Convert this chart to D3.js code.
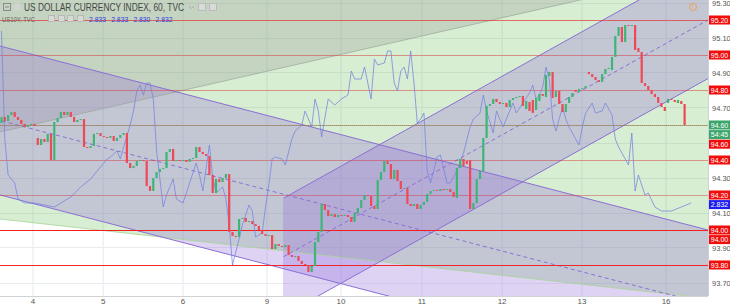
<!DOCTYPE html>
<html><head><meta charset="utf-8">
<script src="https://cdn.jsdelivr.net/npm/d3@7"></script>
<style>body{margin:0;background:#fff;}svg{display:block;font-family:"Liberation Sans",Arial,sans-serif;}</style>
</head><body><svg id="c" width="730" height="306"></svg>
<script>
// ---------- DATA ----------
const opens = [
94.611,94.646,94.623,94.657,94.674,94.646,94.629,94.606,94.589,94.600,
94.606,94.526,94.486,94.520,94.503,94.549,94.400,94.617,94.640,94.674,
94.657,94.674,94.646,94.617,94.629,94.634,94.474,94.469,94.480,94.549,
94.554,94.537,94.531,94.526,94.537,94.509,94.526,94.543,94.554,94.383,
94.354,94.366,94.394,94.400,94.394,94.251,94.223,94.297,94.331,94.349,
94.354,94.446,94.463,94.394,94.400,94.394,94.400,94.389,94.406,94.411,
94.474,94.446,94.434,94.423,94.314,94.211,94.291,94.274,94.297,94.320,
93.989,93.966,93.960,94.063,94.069,94.046,94.051,94.034,94.023,94.000,
93.977,93.966,93.971,93.891,93.920,93.909,93.903,93.914,93.857,93.846,
93.851,93.823,93.806,93.800,93.760,93.794,93.931,93.989,94.149,94.114,
94.080,94.091,94.074,94.086,94.080,94.086,94.074,94.046,94.097,94.126,
94.171,94.200,94.194,94.137,94.120,94.286,94.331,94.394,94.377,94.291,
94.343,94.280,94.234,94.240,94.149,94.137,94.149,94.120,94.143,94.160,
94.206,94.223,94.229,94.223,94.234,94.229,94.234,94.217,94.183,94.354,
94.406,94.394,94.400,94.120,94.154,94.291,94.337,94.526,94.709,94.720,
94.749,94.731,94.720,94.726,94.703,94.743,94.754,94.760,94.766,94.691,
94.731,94.743,94.686,94.737,94.777,94.760,94.880,94.903,94.760,94.794,
94.720,94.674,94.726,94.760,94.800,94.789,94.806,94.811,94.903,94.891,
94.874,94.857,94.846,94.891,94.920,94.914,94.989,95.109,95.160,95.074,
95.171,95.166,95.171,95.040,95.017,94.840,94.823,94.800,94.777,94.760,
94.726,94.703,94.726,94.749,94.743,94.726,94.737,94.720];
const closes = [
94.646,94.623,94.657,94.674,94.646,94.629,94.606,94.589,94.600,94.606,
94.594,94.486,94.520,94.503,94.549,94.400,94.617,94.640,94.674,94.657,
94.674,94.646,94.617,94.629,94.634,94.474,94.469,94.480,94.549,94.554,
94.537,94.531,94.526,94.537,94.509,94.526,94.543,94.554,94.383,94.354,
94.366,94.394,94.400,94.394,94.251,94.223,94.297,94.331,94.349,94.354,
94.446,94.463,94.394,94.400,94.394,94.400,94.389,94.406,94.411,94.474,
94.446,94.434,94.423,94.314,94.211,94.291,94.274,94.297,94.320,93.989,
93.966,93.960,94.063,94.069,94.046,94.051,94.034,94.023,94.000,93.977,
93.966,93.971,93.891,93.920,93.909,93.903,93.914,93.857,93.846,93.851,
93.823,93.806,93.800,93.760,93.794,93.931,93.989,94.149,94.114,94.080,
94.091,94.074,94.086,94.080,94.086,94.074,94.046,94.097,94.126,94.171,
94.200,94.194,94.137,94.120,94.286,94.331,94.394,94.377,94.291,94.343,
94.280,94.234,94.240,94.149,94.137,94.149,94.120,94.143,94.160,94.206,
94.223,94.229,94.223,94.234,94.229,94.234,94.217,94.189,94.354,94.406,
94.366,94.377,94.120,94.154,94.291,94.337,94.526,94.709,94.720,94.749,
94.731,94.720,94.726,94.703,94.743,94.754,94.760,94.766,94.709,94.737,
94.680,94.669,94.754,94.777,94.766,94.886,94.903,94.754,94.794,94.720,
94.674,94.720,94.760,94.783,94.789,94.806,94.811,94.823,94.891,94.874,
94.857,94.846,94.891,94.920,94.926,94.989,95.109,95.160,95.074,95.171,
95.166,95.171,95.029,95.017,94.840,94.823,94.800,94.777,94.760,94.726,
94.703,94.680,94.749,94.743,94.731,94.743,94.720,94.600];

// US10Y overlay (bar index, yield)
const yieldBars = [
0,1,2,4,5,7,10,13,16,18, 21,24,27,30,32,33,35,36,37,39,
40,41,42,43,44,45,46,47,48,49, 50,52,53,55,57,59,60,61,63,64,
65,67,68,69,70,72,73,75,76,77, 79,80,81,82,83,85,86,88,89,91,
92,94,95,96,97,99,101,103,105,106, 107,109,110,112,113,114,116,117,118,119,
120,121,122,123,124,125,126,127,128,129, 130,132,133,135,136,138,140,142,143,145,
146,147,149,150,152,153,155,156,158,160, 161,162,163,164,165,166,167,168,169,170,
171,172,173,174,175,176,177,179,180,182, 183,185,186,187,189,190,191,192,193,194,
195,196,198,200,203,206,209];
const yieldVals = [
2.875,2.848,2.839,2.837,2.833,2.832,2.832,2.8315,2.831,2.832,
2.8335,2.836,2.838,2.841,2.843,2.8435,2.845,2.843,2.846,2.8515,
2.855,2.860,2.8615,2.859,2.862,2.862,2.858,2.845,2.838,2.831,
2.834,2.838,2.833,2.832,2.837,2.842,2.839,2.835,2.8465,2.8385,
2.8345,2.836,2.833,2.8265,2.8165,2.823,2.8265,2.8315,2.830,2.8235,
2.8245,2.831,2.8365,2.843,2.8435,2.843,2.8415,2.848,2.850,2.8515,
2.855,2.851,2.858,2.855,2.8485,2.858,2.8565,2.858,2.859,2.865,
2.863,2.863,2.866,2.858,2.868,2.8665,2.867,2.870,2.870,2.862,
2.860,2.865,2.866,2.863,2.870,2.862,2.852,2.853,2.8545,2.840,
2.837,2.8435,2.844,2.837,2.837,2.840,2.8445,2.851,2.853,2.8545,
2.859,2.855,2.8495,2.855,2.851,2.853,2.857,2.8545,2.857,2.8595,
2.8615,2.858,2.859,2.861,2.866,2.863,2.853,2.850,2.853,2.856,
2.853,2.851,2.8495,2.848,2.8465,2.851,2.8545,2.857,2.8545,2.855,
2.857,2.854,2.848,2.846,2.843,2.8415,2.8495,2.835,2.839,2.8365,
2.834,2.8345,2.831,2.830,2.830,2.831,2.832];

const dayLabels = ["4","5","6","9","10","11","12","13","16"];
const dayBars = [9.55,30.8,55,80.45,102.9,127.4,151.7,175.9,201.4];
const levelPrices = [95.20,95.00,94.80,94.60,94.40,94.20,94.00,94.00,93.80];
const levelStrength = [0.6,0.4,0.4,0.35,0.38,0.35,0.95,0.95,0.95];
const axisTicks = [95.30,95.10,94.90,94.70,94.50,94.30,94.10,93.90,93.70];
const legendValues = ["2.833","2.833","2.830","2.832"];
const lastPrice = 94.60, countdown = "54:45", lastYield = 2.832;

// drawings anchored at [barIndex, price]
const descTop    = [[0,95.049],[200,94.069]];
const descBottom = [[0,94.198],[200,93.217]];
const ascUpper   = [[85.5,94.182],[207,95.460]];
const ascLower   = [[85.5,93.513],[207,94.791]];
const greenLow   = [[0,94.062],[200,93.639]];
const grayEdge   = [[0,94.562],[200,95.420]];

// ---------- DRAW ----------
const W=730,H=306,PW=708,PH=296;
const svg=d3.select("#c");
const x=d3.scaleLinear().domain([0,207]).range([1.5,1.5+207*3.3]);
const y=d3.scaleLinear().domain([93.70,95.30]).range([282.5,2.5]);
const yy=d3.scaleLinear().domain([2.80,2.88]).range([331,11]);
const iL=x.invert(-5), iR=x.invert(PW+5);
const at=(a,i)=>{const [[i0,p0],[i1,p1]]=a;return p0+(p1-p0)*(i-i0)/(i1-i0);};
const poly=(top,bot,i0,i1)=>[[x(i0),y(top(i0))],[x(i1),y(top(i1))],[x(i1),y(bot(i1))],[x(i0),y(bot(i0))]].map(p=>p.join(",")).join(" ");

svg.append("defs").append("clipPath").attr("id","clip").append("rect").attr("x",0).attr("y",0).attr("width",PW).attr("height",PH);
svg.append("rect").attr("width",W).attr("height",H).attr("fill","#fff");
const g=svg.append("g").attr("clip-path","url(#clip)");

// grid
g.selectAll(".vg").data(dayBars).enter().append("line")
 .attr("x1",d=>x(d)).attr("x2",d=>x(d)).attr("y1",0).attr("y2",PH).attr("stroke","#e4e9f0").attr("stroke-width",1);
g.selectAll(".hg").data(axisTicks.concat(levelPrices)).enter().append("line")
 .attr("x1",0).attr("x2",PW).attr("y1",d=>Math.round(y(d))+0.5).attr("y2",d=>Math.round(y(d))+0.5).attr("stroke","#e8ecf1");

// green zone & gray zone
g.append("polygon").attr("points",poly(()=>95.6,i=>at(greenLow,i),iL,iR)).attr("fill","rgb(100,190,80)").attr("fill-opacity",0.26);
g.append("polygon").attr("points",poly(()=>95.6,i=>at(grayEdge,i),iL,iR)).attr("fill","rgb(130,120,130)").attr("fill-opacity",0.21);

// channels
g.append("polygon").attr("points",poly(i=>at(descTop,i),i=>at(descBottom,i),iL,iR)).attr("fill","rgb(150,110,220)").attr("fill-opacity",0.3);
g.append("polygon").attr("points",poly(i=>at(ascUpper,i),i=>at(ascLower,i),85.5,iR)).attr("fill","rgb(150,110,220)").attr("fill-opacity",0.3);

const seg=(fn,i0,i1,col,dash,op)=>g.append("line").attr("x1",x(i0)).attr("y1",y(fn(i0))).attr("x2",x(i1)).attr("y2",y(fn(i1)))
  .attr("stroke",col).attr("stroke-width",1).attr("stroke-opacity",op||1).attr("stroke-dasharray",dash||null);
seg(i=>at(greenLow,i),iL,iR,"#a6d496",null,0.8);
seg(i=>at(grayEdge,i),iL,iR,"#9aa59a",null,0.7);
const pc="#8b6fd3";
seg(i=>at(descTop,i),iL,iR,pc);
seg(i=>at(descBottom,i),iL,iR,pc);
seg(i=>(at(descTop,i)+at(descBottom,i))/2,iL,iR,pc,"4,3");
seg(i=>at(ascUpper,i),85.5,iR,pc);
seg(i=>at(ascLower,i),85.5,iR,pc);
seg(i=>(at(ascUpper,i)+at(ascLower,i))/2,85.5,iR,pc,"4,3");
g.append("line").attr("x1",x(85.5)).attr("x2",x(85.5)).attr("y1",y(at(ascUpper,85.5))).attr("y2",y(at(ascLower,85.5))).attr("stroke",pc).attr("stroke-opacity",0.2);

// horizontal levels
levelPrices.forEach((p,k)=>{
  g.append("line").attr("x1",0).attr("x2",PW).attr("y1",Math.round(y(p))+0.5).attr("y2",Math.round(y(p))+0.5)
   .attr("stroke","#f21e1e").attr("stroke-width",1).attr("stroke-opacity",levelStrength[k]);
});

// current price dotted line
g.append("line").attr("x1",0).attr("x2",PW).attr("y1",Math.round(y(lastPrice))+0.5).attr("y2",Math.round(y(lastPrice))+0.5)
 .attr("stroke","#6aa05a").attr("stroke-dasharray","1,1").attr("stroke-width",1).attr("stroke-opacity",0.8);

// yield line
g.append("path").datum(yieldBars.map((b,k)=>[b,yieldVals[k]]))
 .attr("d",d3.line().x(d=>x(d[0])).y(d=>yy(d[1])))
 .attr("fill","none").attr("stroke","#7482e0").attr("stroke-width",1).attr("stroke-opacity",0.75);

// candles
const up="#3cb676", dn="#ef4856";
g.selectAll(".cd").data(closes).enter().append("rect")
 .attr("x",(d,i)=>x(i)-1.1).attr("width",2.2)
 .attr("y",(d,i)=>Math.min(y(opens[i]),y(d)))
 .attr("height",(d,i)=>Math.max(1,Math.abs(y(opens[i])-y(d))))
 .attr("fill",(d,i)=>d>=opens[i]?up:dn);

// frame
svg.append("line").attr("x1",0).attr("x2",PW).attr("y1",PH+0.5).attr("y2",PH+0.5).attr("stroke","#cfd3d8");
svg.append("line").attr("x1",PW+0.5).attr("x2",PW+0.5).attr("y1",0).attr("y2",PH).attr("stroke","#cfd3d8");

// x axis labels
svg.selectAll(".xl").data(dayLabels).enter().append("text")
 .attr("x",(d,k)=>x(dayBars[k])).attr("y",304).attr("text-anchor","middle")
 .attr("font-size",8).attr("fill","#555").text(d=>d);

// right-side labels with stacking
const labels=[];
levelPrices.forEach(p=>labels.push({t:p.toFixed(2),yv:y(p),c:"#f20d0d",r:1}));
labels.push({t:lastPrice.toFixed(2),yv:y(lastPrice),c:"#3aa66b",r:0});
labels.push({t:countdown,yv:y(lastPrice),c:"#3aa66b",r:0.5});
labels.push({t:lastYield.toFixed(3),yv:yy(lastYield),c:"#1d1df0",r:1});
labels.sort((a,b)=>{const d=a.yv-b.yv; return Math.abs(d)<1?(a.r-b.r):d;});
let prev=-100;
labels.forEach(l=>{let v=Math.max(l.yv,prev+9.6);l.ys=v;prev=v;});

// y axis tick labels (those hidden behind a coloured label are not shown, as in TradingView)
const visibleTicks=axisTicks.filter(t=>labels.every(l=>Math.abs(l.ys-y(t))>7));
svg.selectAll(".yl").data(visibleTicks).enter().append("text")
 .attr("x",712).attr("y",d=>y(d)+3).attr("font-size",7.5).attr("fill","#555").text(d=>d.toFixed(2));

const lg=svg.append("g");
labels.forEach(l=>{
  lg.append("rect").attr("x",709).attr("y",l.ys-4.5).attr("width",21).attr("height",9).attr("fill",l.c);
  lg.append("text").attr("x",719.5).attr("y",l.ys+2.5).attr("text-anchor","middle").attr("font-size",7).attr("fill","#fff").text(l.t);
});

// legend
const lgd=svg.append("g");
lgd.append("rect").attr("x",3.5).attr("y",3.5).attr("width",7).attr("height",7).attr("fill","none").attr("stroke","#8a8a8a");
lgd.append("line").attr("x1",5).attr("x2",9).attr("y1",7).attr("y2",7).attr("stroke","#8a8a8a");
lgd.append("rect").attr("x",14).attr("y",3.5).attr("width",6).attr("height",7).attr("fill","#cfd6d2");
lgd.append("text").attr("x",24).attr("y",11).attr("font-size",10).attr("fill","#444")
 .attr("textLength",160).attr("lengthAdjust","spacingAndGlyphs").text("US DOLLAR CURRENCY INDEX, 60, TVC");
lgd.append("path").attr("d","M189,6 L191.5,8.5 L194,6").attr("fill","none").attr("stroke","#aaa");
[198,209].forEach(v=>lgd.append("rect").attr("x",v+0.5).attr("y",3.5).attr("width",7).attr("height",7).attr("fill","#d8dcd8").attr("stroke","#bbb"));
lgd.append("text").attr("x",2).attr("y",22).attr("font-size",7.5).attr("fill","#666")
 .attr("textLength",33).attr("lengthAdjust","spacingAndGlyphs").text("US10Y, TVC");
[48,58,67,77].forEach(v=>lgd.append("rect").attr("x",v+0.5).attr("y",15.5).attr("width",6).attr("height",6).attr("fill","#d5dad5").attr("stroke","#b8b8b8"));
legendValues.forEach((t,k)=>lgd.append("text").attr("x",89+k*22.2).attr("y",22).attr("font-size",7.5).attr("fill","#2a3ae0")
 .attr("textLength",17).attr("lengthAdjust","spacingAndGlyphs").text(t));

// alert icon
svg.append("circle").attr("cx",693).attr("cy",7).attr("r",3.6).attr("fill","none").attr("stroke","#f2a25a").attr("stroke-width",1);
svg.append("text").attr("x",693).attr("y",9.3).attr("text-anchor","middle").attr("font-size",6).attr("fill","#f2a25a").text("!");
</script></body></html>
